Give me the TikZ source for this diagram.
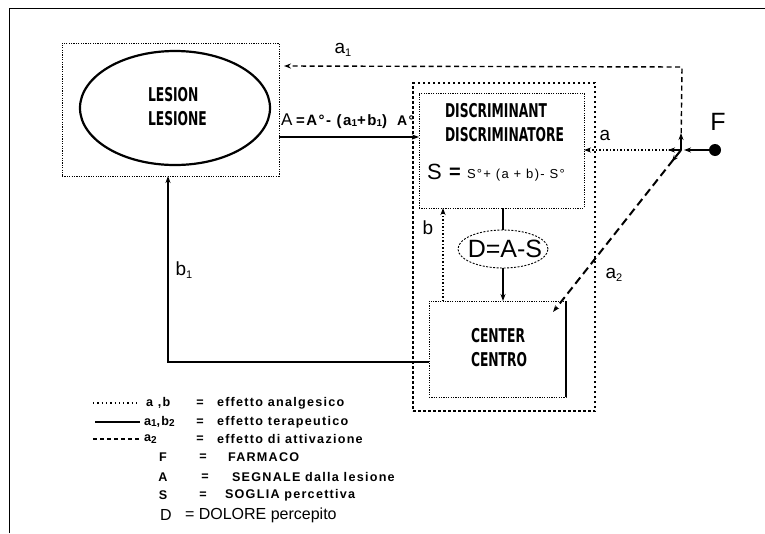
\documentclass[tikz,border=0pt]{standalone}
\usepackage{fontspec}
\setmainfont{Liberation Sans}
\newfontfamily\condfont{DejaVu Sans Condensed}
\newfontfamily\spfont[LetterSpace=10]{Liberation Sans}
\usetikzlibrary{arrows.meta,shapes.geometric,calc}
\tikzset{
  every node/.style={inner sep=0pt,outer sep=0pt},
  tip/.style={-{Stealth[length=7pt,width=5pt]}},
  dotbox/.style={draw,line width=0.9pt,dash pattern=on 1.2pt off 1.2pt},
  outerbox/.style={draw,line width=1.6pt,dash pattern=on 2.5pt off 2.5pt},
  solidline/.style={line width=1.6pt},
  dotline/.style={line width=1.6pt,dash pattern=on 1.5pt off 2pt},
  dashline/.style={line width=1.4pt,dash pattern=on 5pt off 3.5pt},
  bigdash/.style={line width=2pt,dash pattern=on 8pt off 4.5pt},
  title/.style={font=\condfont\bfseries\fontsize{19}{24}\selectfont,align=left,anchor=west},
  lbl/.style={font=\fontsize{19}{19}\selectfont},
  leg/.style={font=\spfont\bfseries\fontsize{12.6}{12}\selectfont,anchor=west},
  legc/.style={font=\bfseries\fontsize{12.6}{12}\selectfont},
}
\newcommand{\sub}[1]{\raisebox{-0.3ex}{\fontsize{11}{11}\selectfont #1}}
\newcommand{\ssub}[1]{\raisebox{-0.2ex}{\fontsize{10}{10}\selectfont #1}}
\newcommand{\cnd}[1]{\scalebox{0.72}[1]{#1}}
\begin{document}
\begin{tikzpicture}[x=1pt,y=-1pt]
\useasboundingbox (0,0) rectangle (765,533);
% frame
\draw[line width=1pt] (9,533) -- (9,8) -- (765,8);

% lesion
\node[dotbox,minimum width=217,minimum height=133] (lesbox) at (170.5,109.5) {};
\node[draw,ellipse,line width=2.2pt,minimum width=190,minimum height=114] (lesell) at (175,108) {};
\node[title] (lestext) at (148,107) {\cnd{LESION}\\\cnd{LESIONE}};

% discriminant
\node[outerbox,minimum width=182,minimum height=328] (outer) at (504,247) {};
\node[dotbox,minimum width=165,minimum height=115] (disc) at (501.5,150.5) {};
\node[title] (disctext) at (445,122.5) {\cnd{DISCRIMINANT}\\\cnd{DISCRIMINATORE}};
\node[anchor=base west,font=\fontsize{22}{22}\selectfont] (sbig) at (427,179) {S};
\node[anchor=base west,font=\bfseries\fontsize{20}{20}\selectfont] (seqsign) at (449,178) {=};
\node[anchor=base west,font=\spfont\fontsize{13}{12}\selectfont] (seq) at (467,178) {S°+ (a + b)- S°};
\node[draw,ellipse,line width=0.9pt,dash pattern=on 2pt off 1.5pt,minimum width=90,minimum height=38] (das) at (503,249) {};
\node[font=\fontsize{25}{25}\selectfont] (dastext) at (505,249) {D=A-S};
\node[dotbox,minimum width=137,minimum height=96] (center) at (497.5,349) {};
\draw[line width=1.3pt] (center.north east) -- (center.south east);
\node[title] (centertext) at (471,348) {\cnd{CENTER}\\\cnd{CENTRO}};

% F and junction
\node[circle,fill,minimum size=12] (F) at (715,150) {};
\node[font=\fontsize{25}{25}\selectfont] (Flabel) at (718,122) {F};
\coordinate (J) at (681,150);
\coordinate (Jtop) at (682,67);

% connectors
\coordinate (Ay) at (0,137);
\draw[solidline,tip] (lesbox.east |- Ay) -- (disc.west |- Ay);
\node[anchor=base west,font=\fontsize{17}{17}\selectfont] (Alabel) at (281,125) {A};
\node[anchor=base west,font=\spfont\bfseries\fontsize{15}{12}\selectfont] (Aeq) at (296,125) {=A°- (a\ssub{1}+b\ssub{1})};
\node[anchor=base west,font=\spfont\bfseries\fontsize{14}{12}\selectfont] (Aend) at (397,125) {A°};

\coordinate (a1y) at (0,66);
\draw[dashline,tip] (J) -- (Jtop) -- ([xshift=5pt]lesbox.east |- a1y);
\draw[line width=1.2pt,tip] (J) -- ++(0,-17);
\node[lbl] (a1label) at (343,50) {a\sub{1}};

\draw[line width=1.3pt,tip] (F) -- ([xshift=3pt]J);
\draw[dotline,tip] (J) -- (disc.east |- J);
\draw[line width=1.3pt,tip] (J) -- ++(-13,0);
\node[lbl] (alabel) at (605,135) {a};

\coordinate (a2end) at (553,312);
\draw[bigdash,tip] (J) -- (a2end);
\draw[line width=1.6pt,tip] (J) -- ($(J)!15pt!(a2end)$);
\node[lbl] (a2label) at (614,275) {a\sub{2}};

\draw[solidline] (disc.south -| das) -- (das.north);
\draw[solidline,tip] (das.south) -- (center.north -| das);
\coordinate (bx) at (443,0);
\draw[dotline,tip] (center.north -| bx) -- (disc.south -| bx);
\node[lbl] (blabel) at (428,228) {b};

\coordinate (b1y) at (0,362);
\coordinate (b1c) at (168,362);
\draw[solidline,tip] (center.west |- b1y) -- (b1c) -- (lesbox.south -| b1c);
\node[lbl] (b1label) at (184,270) {b\sub{1}};

% legend
\coordinate (l1a) at (93,403); \coordinate (l1b) at (140,403);
\coordinate (l2a) at (95,422); \coordinate (l2b) at (140,422);
\coordinate (l3a) at (93,439); \coordinate (l3b) at (140,439);
\draw[line width=1.2pt,dash pattern=on 1.3pt off 3pt] (l1a) -- (l1b);
\draw[line width=1.2pt] (l2a) -- (l2b);
\draw[line width=1.2pt,dash pattern=on 3.5pt off 3.5pt] (l3a) -- (l3b);
\node[leg] (k1) at (146,403) {a ,b};
\node[legc] (e1) at (200,403) {=};
\node[leg] (t1) at (217,403) {effetto analgesico};
\node[leg] (k2) at (144,422) {a\ssub{1},b\ssub{2}};
\node[legc] (e2) at (200,422) {=};
\node[leg] (t2) at (217,422) {effetto terapeutico};
\node[leg] (k3) at (144,439) {a\ssub{2}};
\node[legc] (e3) at (200,439) {=};
\node[leg] (t3) at (217,439) {effetto di attivazione};
\node[legc] (k4) at (163,457) {F};
\node[legc] (e4) at (203,457) {=};
\node[leg] (t4) at (228,457) {FARMACO};
\node[legc] (k5) at (163,477) {A};
\node[legc] (e5) at (205,477) {=};
\node[leg] (t5) at (232,477) {SEGNALE dalla lesione};
\node[legc] (k6) at (163,495) {S};
\node[legc] (e6) at (203,495) {=};
\node[leg] (t6) at (225,495) {SOGLIA percettiva};
\node[font=\fontsize{16}{16}\selectfont] (k7) at (166,515) {D};
\node[font=\fontsize{16}{16}\selectfont,anchor=west] (t7) at (185,515) {= DOLORE percepito};
\end{tikzpicture}
\end{document}
